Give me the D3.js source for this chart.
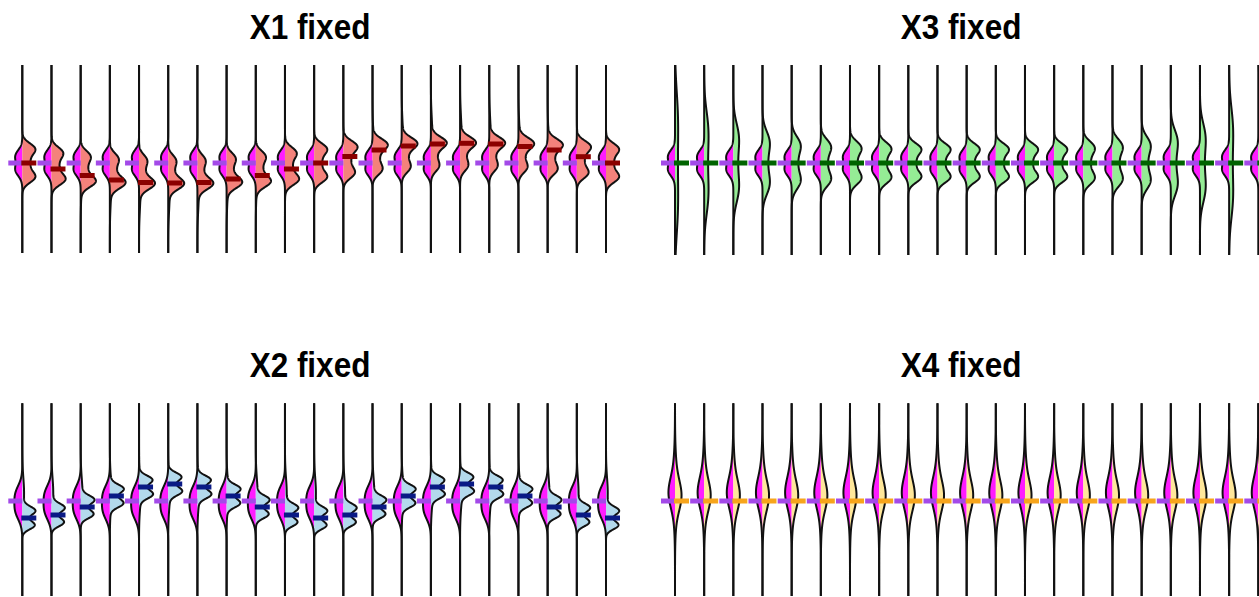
<!DOCTYPE html>
<html>
<head>
<meta charset="utf-8">
<script src="https://cdn.jsdelivr.net/npm/d3@7"></script>
<style>
  html, body { margin: 0; padding: 0; background: #ffffff; }
  svg { display: block; }
  .panel-title {
    font-family: "Liberation Sans", Arial, sans-serif;
    font-weight: bold;
    font-size: 35px;
    fill: #000;
  }
</style>
</head>
<body>
<svg id="chart" width="1259" height="597"></svg>
<script>
// ---- data -------------------------------------------------------------
// 21 runs per panel
const runs = ["1","2","3","4","5","6","7","8","9","10","11",
              "12","13","14","15","16","17","18","19","20","21"];

const panelTitles = ["X1 fixed", "X3 fixed", "X2 fixed", "X4 fixed"];

// reference (left, magenta) half: mixture parts [centre, spread, weight]
const refTopCentre = [0.07, -0.07];
const refTopSpread = [0.06, 0.06];
const refTopWeight = [0.5, 0.5];

const refX2Centre = [0.07, -0.10];
const refX2Spread = [0.09, 0.09];
const refX2Weight = [0.5, 0.5];

const refX4Centre = [0.08, 0.12];
const refX4Spread = [0.14, 0.26];
const refX4Weight = [0.5, 0.5];

const refMedian = 0;

// X1 fixed: right half medians and its two modes
const x1Median     = [0, -0.06, -0.125, -0.17, -0.195, -0.2, -0.195, -0.16, -0.125, -0.06, 0,
                      0.065, 0.13, 0.17, 0.19, 0.197, 0.19, 0.165, 0.13, 0.063, 0];
const x1PeakHigh   = [0.145, 0.107, 0.071, 0.047, 0.033, 0.03, 0.033, 0.052, 0.071, 0.107, 0.145,
                      0.17, 0.189, 0.201, 0.207, 0.209, 0.207, 0.2, 0.189, 0.169, 0.145];
const x1PeakLow    = [-0.145, -0.168, -0.188, -0.201, -0.209, -0.21, -0.209, -0.198, -0.188, -0.168, -0.145,
                      -0.104, -0.069, -0.047, -0.036, -0.032, -0.036, -0.049, -0.069, -0.105, -0.145];
const x1WeightHigh = [0.32, 0.275, 0.226, 0.193, 0.174, 0.17, 0.174, 0.2, 0.226, 0.275, 0.32,
                      0.34, 0.359, 0.371, 0.377, 0.379, 0.377, 0.37, 0.359, 0.339, 0.32];
const x1WeightLow  = [0.32, 0.338, 0.358, 0.371, 0.379, 0.38, 0.379, 0.368, 0.358, 0.338, 0.32,
                      0.271, 0.223, 0.193, 0.178, 0.172, 0.178, 0.196, 0.223, 0.273, 0.32];
const x1WeightMid  = [0.36, 0.327, 0.291, 0.267, 0.253, 0.25, 0.253, 0.272, 0.291, 0.327, 0.36,
                      0.324, 0.289, 0.267, 0.256, 0.252, 0.256, 0.269, 0.289, 0.325, 0.36];

// X2 fixed: right half medians
const x2Median = [-0.17, -0.14, -0.06, 0.05, 0.14, 0.17, 0.14, 0.05, -0.06, -0.14, -0.17,
                  -0.14, -0.06, 0.05, 0.14, 0.17, 0.14, 0.05, -0.06, -0.14, -0.17];

// X3 fixed: right half medians and spread
const x3Median = [0, 0, 0, 0, 0, 0, 0, 0, 0, 0, 0, 0, 0, 0, 0, 0, 0, 0, 0, 0, 0];
const x3Spread = [3.6, 2.6, 2.0, 1.6, 1.33, 1.2, 1.1, 1.05, 1.0, 1.0, 1.0,
                  1.0, 1.0, 1.0, 1.1, 1.2, 1.33, 1.67, 2.0, 2.8, 3.6];

// X4 fixed: right half medians
const x4Median = [0, 0, 0, 0, 0, 0, 0, 0, 0, 0, 0, 0, 0, 0, 0, 0, 0, 0, 0, 0, 0];

// ---- shapes -----------------------------------------------------------
const part = (mu, sd, w) => ({ mu, sd, w });
const zipParts = (c, s, w) => c.map((m, k) => part(m, s[k], w[k]));

// bimodal shape shared by X1 (unshifted) and X3; wider runs flatten into a plateau
function bimodal(centre, stretch) {
  const t = stretch - 1;
  const hornPos = 0.145 * (1 + 0.9 * t);
  const hornSd = 0.055 * (1 + 1.5 * t);
  return [
    part(centre + hornPos, hornSd, 0.32),
    part(centre - hornPos, hornSd, 0.32),
    part(centre, 0.09 * stretch, 0.36)
  ];
}

function x1Shape(i) {
  const m = x1Median[i];
  return [
    part(x1PeakHigh[i], 0.055, x1WeightHigh[i]),
    part(x1PeakLow[i], 0.055, x1WeightLow[i]),
    part((x1PeakHigh[i] + x1PeakLow[i]) / 2, 0.09, x1WeightMid[i]),
    // shifted runs drag a thin tail on the side they moved to
    part(m * 1.75, 0.15, Math.abs(m) * 0.5)
  ];
}

function x2Shape(i) {
  const m = x2Median[i];
  return [
    part(m + 0.075, 0.04, 0.33),
    part(m - 0.075, 0.04, 0.33),
    part(m, 0.06, 0.14),
    part(0.08, 0.15, 0.2)
  ];
}

function x3Shape(i) { return bimodal(x3Median[i], x3Spread[i]); }

function x4Shape(i) {
  const m = x4Median[i];
  return [part(m + 0.05, 0.14, 0.5), part(m + 0.1, 0.26, 0.5)];
}

// ---- layout / style ---------------------------------------------------
const panels = [
  { title: panelTitles[0], titleX: 310, titleY: 39,  mid: 163, xr: [22.3, 606],
    lo: -0.90, hi: 0.98,
    ref: zipParts(refTopCentre, refTopSpread, refTopWeight), refK: 2.0,
    right: x1Shape, rightK: 4.7, median: x1Median,
    fill: "#f4827b", dash: "#8b0000" },
  { title: panelTitles[1], titleX: 961, titleY: 39,  mid: 163, xr: [675, 1258.3],
    lo: -0.92, hi: 0.98,
    ref: zipParts(refTopCentre, refTopSpread, refTopWeight), refK: 2.0,
    right: x3Shape, rightK: 4.7, median: x3Median,
    fill: "#95ec95", dash: "#006400" },
  { title: panelTitles[2], titleX: 310, titleY: 377, mid: 501, xr: [22.3, 606],
    lo: -0.95, hi: 0.98,
    ref: zipParts(refX2Centre, refX2Spread, refX2Weight), refK: 2.8,
    right: x2Shape, rightK: 3.3, median: x2Median,
    fill: "#b3d9ec", dash: "#0a1a85" },
  { title: panelTitles[3], titleX: 961, titleY: 377, mid: 501, xr: [675, 1258.3],
    lo: -0.95, hi: 0.98,
    ref: zipParts(refX4Centre, refX4Spread, refX4Weight), refK: 3.0,
    right: x4Shape, rightK: 3.0, median: x4Median,
    fill: "#ffe79a", dash: "#f7a51c" }
];

const refFill = "#ff1cff";
const refDash = "#a34ae8";
const outline = "#111111";
const titleSqueeze = 0.9;

// ---- drawing ----------------------------------------------------------
const SQ2PI = Math.sqrt(2 * Math.PI);
function density(parts, v) {
  let s = 0;
  for (const p of parts) {
    if (p.w <= 0) continue;
    const z = (v - p.mu) / p.sd;
    s += p.w * Math.exp(-0.5 * z * z) / (p.sd * SQ2PI);
  }
  return s;
}

const svg = d3.select("#chart");

panels.forEach(P => {
  const g = svg.append("g");
  const x = d3.scalePoint().domain(runs).range(P.xr);
  const y = d3.scaleLinear().domain([-1, 1]).range([P.mid + 100, P.mid - 100]);
  const wRef = d3.scaleLinear().domain([0, 1]).range([0, P.refK]);
  const wRight = d3.scaleLinear().domain([0, 1]).range([0, P.rightK]);
  const grid = d3.range(P.lo, P.hi + 1e-9, 0.004);

  g.append("text")
    .attr("class", "panel-title")
    .attr("transform", `translate(${P.titleX},${P.titleY}) scale(${titleSqueeze},1)`)
    .attr("text-anchor", "middle")
    .text(P.title);

  runs.forEach((r, i) => {
    const c = x(r);
    const left = grid.map(v => ({ v, d: density(P.ref, v) }));
    const rightParts = P.right(i);
    const right = grid.map(v => ({ v, d: density(rightParts, v) }));

    const vg = g.append("g").attr("class", "violin");

    vg.append("path")
      .datum(left)
      .attr("fill", refFill)
      .attr("d", d3.area().x0(c).x1(d => c - wRef(d.d)).y(d => y(d.v)));

    vg.append("path")
      .datum(right)
      .attr("fill", P.fill)
      .attr("d", d3.area().x0(c).x1(d => c + wRight(d.d)).y(d => y(d.v)));

    vg.append("path")
      .datum(left)
      .attr("fill", "none")
      .attr("stroke", outline)
      .attr("stroke-width", 2)
      .attr("d", d3.line().x(d => c - wRef(d.d)).y(d => y(d.v)));

    vg.append("path")
      .datum(right)
      .attr("fill", "none")
      .attr("stroke", outline)
      .attr("stroke-width", 2)
      .attr("d", d3.line().x(d => c + wRight(d.d)).y(d => y(d.v)));
  });

  // median dashes on top of the violins
  runs.forEach((r, i) => {
    const c = x(r);
    g.append("line")
      .attr("x1", c - 14).attr("x2", c)
      .attr("y1", y(refMedian)).attr("y2", y(refMedian))
      .attr("stroke", refDash).attr("stroke-width", 5);
    g.append("line")
      .attr("x1", c - 1).attr("x2", c + 14)
      .attr("y1", y(P.median[i])).attr("y2", y(P.median[i]))
      .attr("stroke", P.dash).attr("stroke-width", 5);
  });
});
</script>
</body>
</html>
